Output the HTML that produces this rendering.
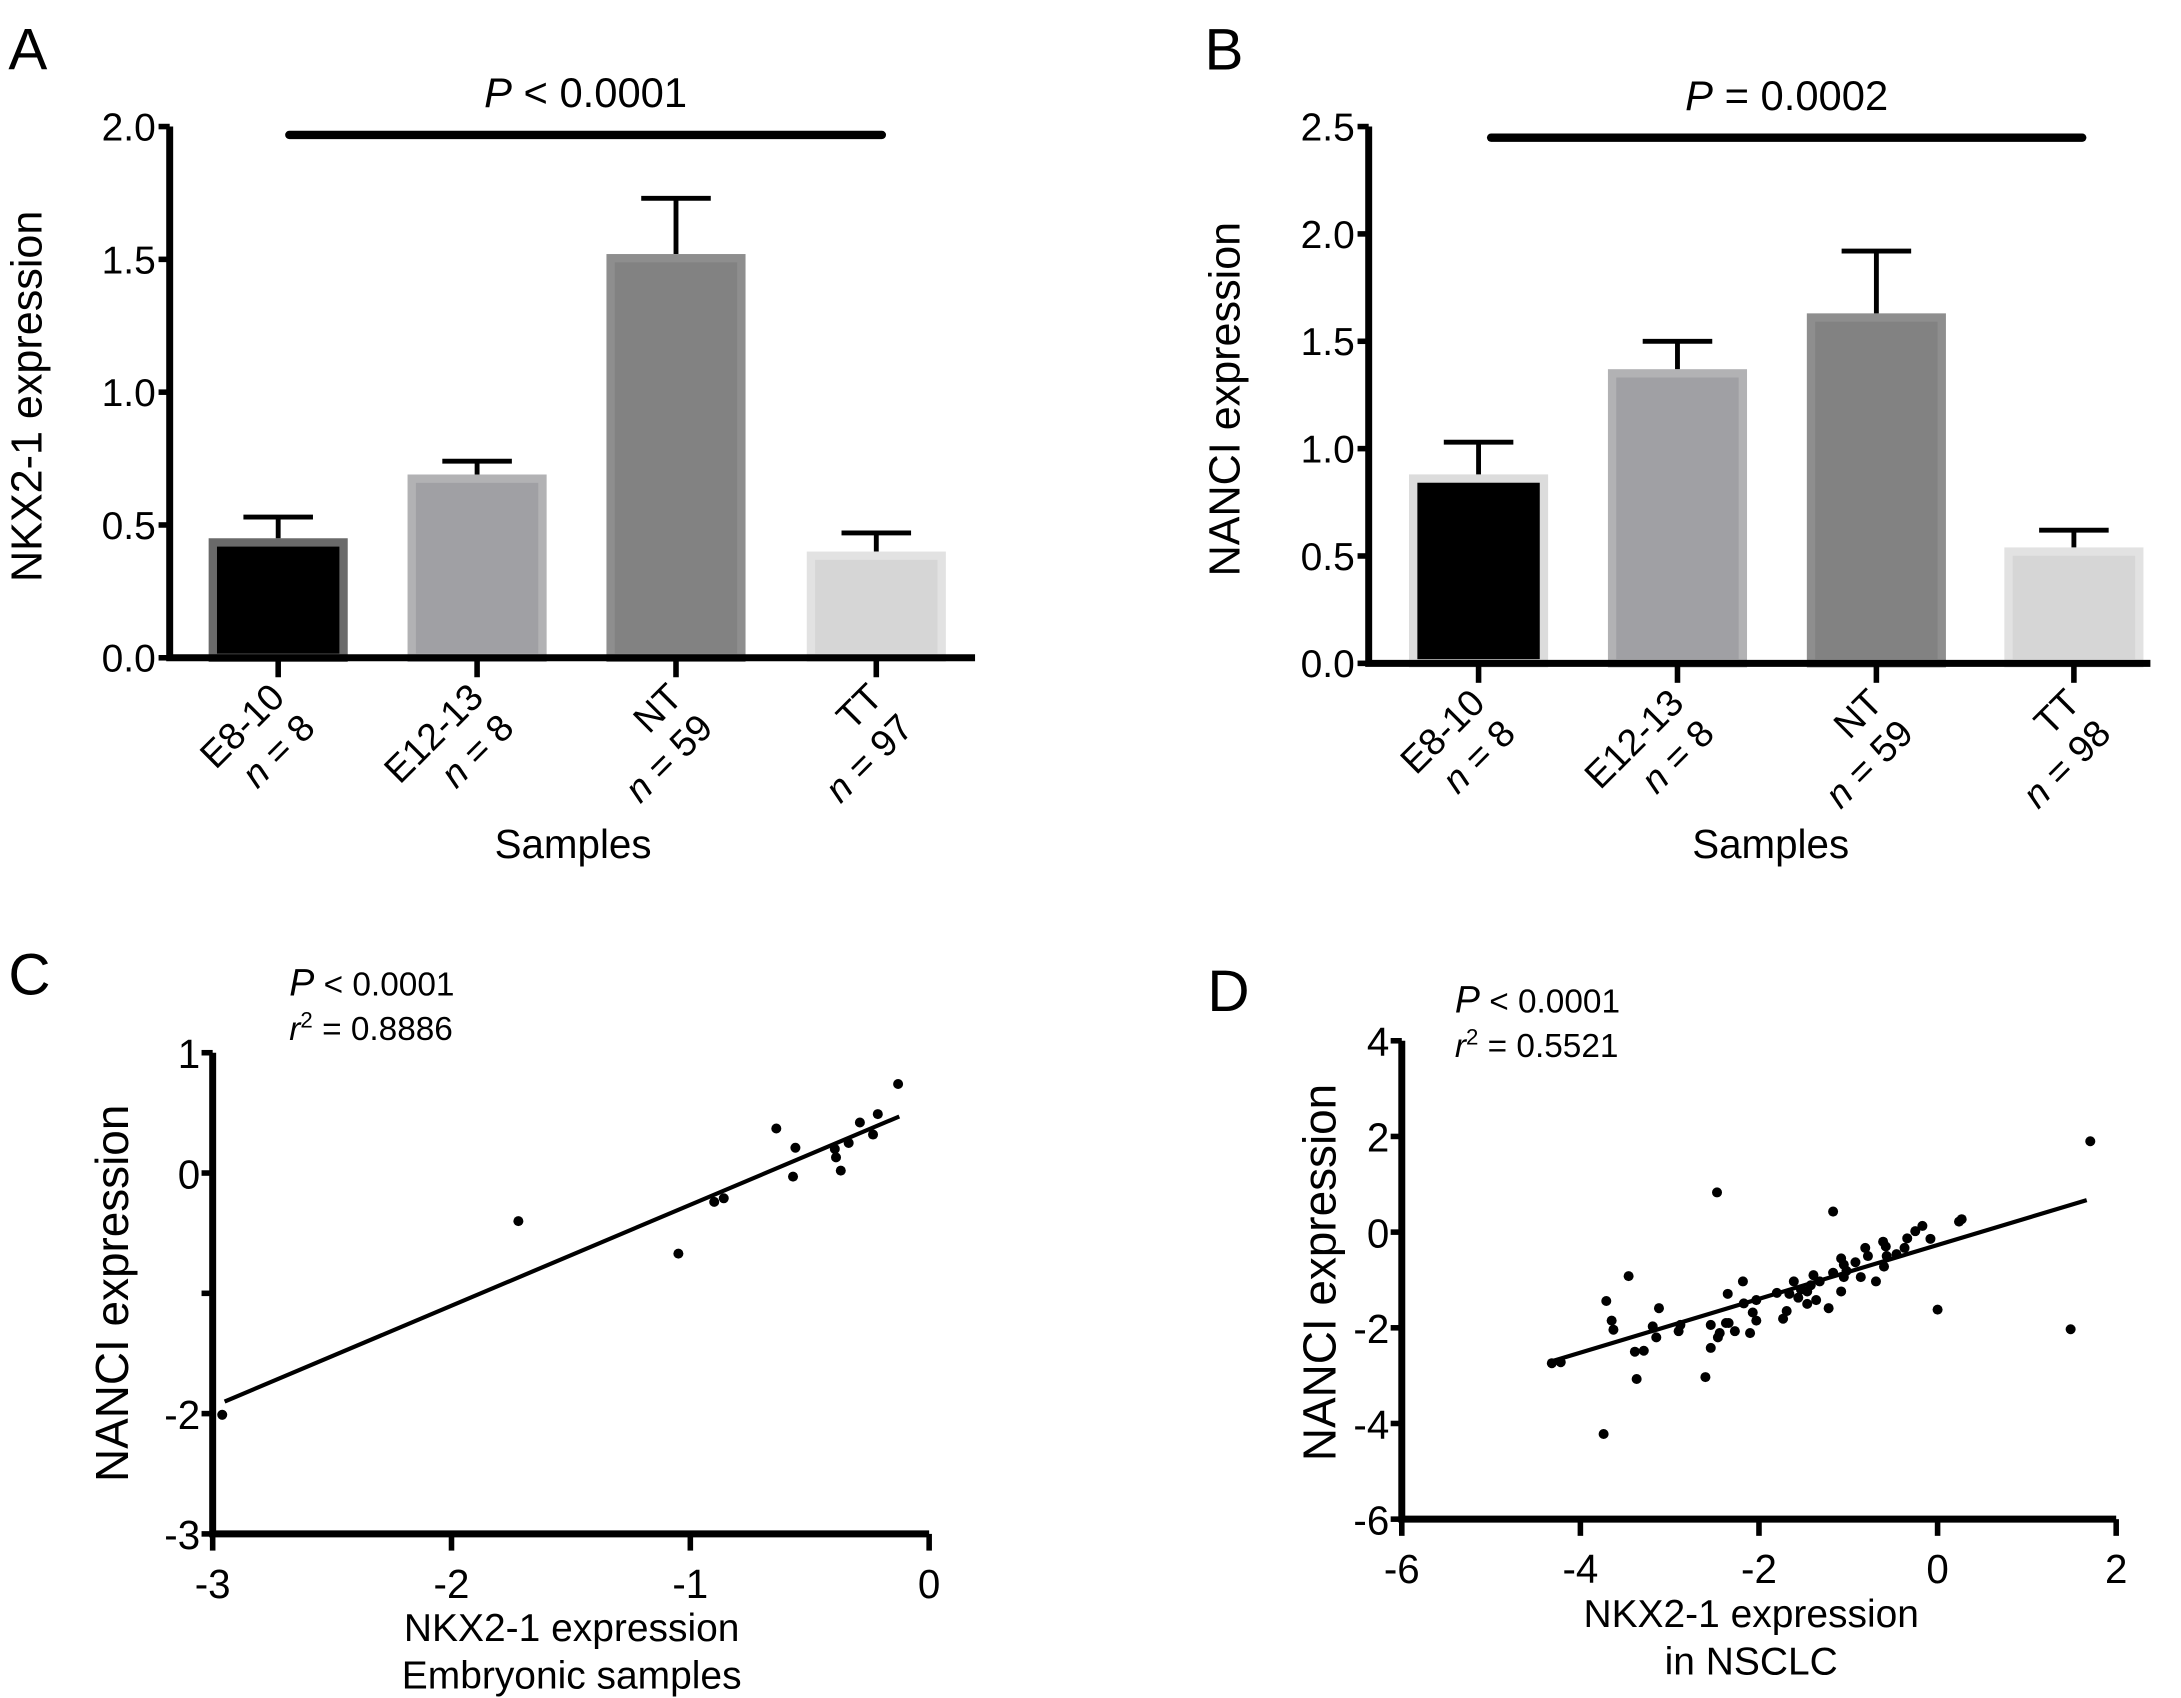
<!DOCTYPE html>
<html><head><meta charset="utf-8"><style>
html,body{margin:0;padding:0;background:#fff}
svg{display:block}
text{font-family:"Liberation Sans",Arial,sans-serif;fill:#000}
</style></head><body>
<svg id="fig" width="2181" height="1698" viewBox="0 0 1568 1221" preserveAspectRatio="none" font-family="Liberation Sans, Arial, sans-serif" xmlns="http://www.w3.org/2000/svg">
<g id="root"></g>
</svg>
<script>
// Panel A data
const catsA = ["E8-10","E12-13","NT","TT"];
const nA = ["n = 8","n = 8","n = 59","n = 97"];
const valsA = [0.45,0.69,1.52,0.40];
const errA = [0.53,0.74,1.73,0.47];
const ticksA = [0,0.5,1.0,1.5,2.0];
// Panel B data
const catsB = ["E8-10","E12-13","NT","TT"];
const nB = ["n = 8","n = 8","n = 59","n = 98"];
const valsB = [0.88,1.37,1.63,0.54];
const errB = [1.03,1.50,1.92,0.62];
const ticksB = [0,0.5,1.0,1.5,2.0,2.5];
// Panel C data
const cX = [-0.13,-0.215,-0.29,-0.235,-0.337,-0.395,-0.39,-0.37,-0.64,-0.56,-0.57,-0.86,-0.90,-1.72,-1.05,-2.96];
const cY = [0.74,0.49,0.42,0.32,0.25,0.20,0.13,0.02,0.37,0.21,-0.03,-0.21,-0.24,-0.40,-0.67,-2.01];
const cFitX = [-2.95,-0.125];
const cFitY = [-1.90,0.47];
const cTicksX = [-3,-2,-1,0];
const cTicksY = [1,0,-1,-2,-3];
const cTickLabelsY = ["1","0","","-2","-3"];
// Panel D data
const dX = [1.71,1.49,0.0,-2.47,-1.17,0.24,0.27,-0.17,-0.25,-0.08,-0.34,-0.37,-0.46,-0.61,-0.58,-0.57,-0.60,-0.81,-0.78,-0.92,-1.08,-1.05,-1.05,-1.02,-0.86,-0.69,-1.08,-1.17,-1.22,-1.32,-1.39,-1.42,-1.46,-1.36,-1.46,-1.56,-1.61,-1.53,-1.66,-1.69,-1.73,-1.80,-2.03,-2.07,-2.03,-2.17,-2.10,-2.18,-2.35,-2.34,-2.37,-2.44,-2.46,-2.54,-2.54,-2.27,-2.60,-2.88,-2.90,-3.12,-3.19,-3.15,-3.29,-3.39,-3.37,-3.46,-3.71,-3.65,-3.63,-3.74,-4.32,-4.22];
const dY = [1.90,-2.03,-1.62,0.83,0.43,0.22,0.27,0.13,0.02,-0.14,-0.13,-0.33,-0.46,-0.20,-0.30,-0.50,-0.72,-0.33,-0.50,-0.63,-0.55,-0.68,-0.94,-0.81,-0.94,-1.03,-1.24,-0.85,-1.59,-1.03,-0.90,-1.11,-1.24,-1.42,-1.50,-1.37,-1.03,-1.20,-1.29,-1.65,-1.81,-1.27,-1.42,-1.68,-1.85,-1.49,-2.11,-1.03,-1.29,-1.90,-1.90,-2.11,-2.20,-1.94,-2.42,-2.07,-3.03,-1.94,-2.07,-1.59,-1.97,-2.20,-2.48,-2.50,-3.07,-0.92,-1.44,-1.85,-2.04,-4.22,-2.74,-2.72];
const dFitX = [-4.32,1.67];
const dFitY = [-2.70,0.67];
const dTicksX = [-6,-4,-2,0,2];
const dTicksY = [4,2,0,-2,-4,-6];

const NS="http://www.w3.org/2000/svg";
const root=document.getElementById('root');
function mk(tag,attrs,parent,txt){const e=document.createElementNS(NS,tag);for(const k in attrs)e.setAttribute(k,attrs[k]);if(txt!==undefined)e.textContent=txt;(parent||root).appendChild(e);return e;}

function barPanel(p){
  const g=mk('g',{});
  
  
  const y=v=>p.y0-v*p.k;
  p.vals.forEach((v,i)=>{
    const cx=p.centers[i];
    const r=mk('rect',{x:cx-47,y:y(v)+3,width:94,height:p.y0-y(v)-3,fill:p.fills[i],stroke:p.strokes[i],'stroke-width':6},g);
    
    
    const e=mk('path',{d:`M${cx} ${y(v)} V${y(p.errs[i])} M${cx-25} ${y(p.errs[i])} H${cx+25}`,stroke:'#000','stroke-width':3.5,fill:'none'},g);
    
    
  });
  const ax=mk('path',{d:`M${p.ax} ${y(p.ticks[p.ticks.length-1])} V${p.y0} H${p.xend}`,stroke:'#000','stroke-width':5,fill:'none'},g);
  
  
  p.ticks.forEach(t=>{
    mk('line',{x1:p.ax-8,x2:p.ax,y1:y(t),y2:y(t),stroke:'#000','stroke-width':4},g);
    const tl=mk('text',{x:p.ax-10,y:y(t)+10,'text-anchor':'end','font-size':28},g,t.toFixed(1));
    
    
  });
  p.centers.forEach((cx,i)=>{
    mk('line',{x1:cx,x2:cx,y1:p.y0,y2:p.y0+14,stroke:'#000','stroke-width':4},g);
    const lab=mk('text',{transform:`rotate(-45 ${cx+6} ${p.y0+30})`,x:cx+6,y:p.y0+30,'text-anchor':'end','font-size':27},g,p.cats[i]);
    
    
    const parts=p.ns[i].split(' = ');
    const nl=mk('text',{transform:`rotate(-45 ${cx+6} ${p.y0+30})`,x:cx+6,y:p.y0+61,'text-anchor':'end','font-size':27},g);
    
    
    mk('tspan',{'font-style':'italic'},nl,'n');
    mk('tspan',{},nl,' = '+parts[1]);
  });
  const sig=mk('line',{x1:p.sig[0],x2:p.sig[1],y1:p.sigy,y2:p.sigy,stroke:'#000','stroke-width':6,'stroke-linecap':'round'},g);
  
  
  const pt=mk('text',{x:(p.sig[0]+p.sig[1])/2,y:p.sigy-20,'text-anchor':'middle','font-size':30},g);
  
  
  mk('tspan',{'font-style':'italic'},pt,'P');
  mk('tspan',{},pt,p.ptext);
  const yt=mk('text',{transform:`rotate(-90 ${p.ytx} ${p.yty})`,x:p.ytx,y:p.yty,'text-anchor':'middle','font-size':31},g,p.ytitle);
  
  
  const xt=mk('text',{x:p.xtx,y:617,'text-anchor':'middle','font-size':29},g,'Samples');
  
  
  const pl=mk('text',{x:p.lx,y:50,'font-size':42},g,p.letter);
  
  
}

barPanel({name:'panel-a',cats:catsA,ns:nA,vals:valsA,errs:errA,ticks:ticksA,y0:473,k:191,ax:122,xend:701,
  centers:[200,343,486,630],fills:['#000','#a0a0a4','#828282','#d6d6d6'],strokes:['#6a6a6a','#b2b2b4','#8e8e8e','#e2e2e2'],
  sig:[208,634],sigy:97,ptext:' < 0.0001',ytitle:'NKX2-1 expression',ytx:30,yty:285,xtx:412,lx:6,letter:'A'});
barPanel({name:'panel-b',cats:catsB,ns:nB,vals:valsB,errs:errB,ticks:ticksB,y0:477,k:154.4,ax:984,xend:1546,
  centers:[1063,1206,1349,1491],fills:['#000','#a0a0a4','#828282','#d6d6d6'],strokes:['#dcdcdc','#b2b2b4','#8e8e8e','#e2e2e2'],
  sig:[1072,1497],sigy:99,ptext:' = 0.0002',ytitle:'NANCI expression',ytx:891,yty:287,xtx:1273,lx:866,letter:'B'});

function scatterPanel(p){
  const g=mk('g',{});
  
  
  const x=v=>p.x0+v*p.kx, y=v=>p.y0-v*p.ky;
  const xmin=p.tx[0], xmax=p.tx[p.tx.length-1], ymax=p.ty[0], ymin=p.ty[p.ty.length-1];
  const ax=mk('path',{d:`M${x(xmin)} ${y(ymax)} V${y(ymin)} H${x(xmax)}`,stroke:'#000','stroke-width':5,fill:'none'},g);
  
  
  p.ty.forEach((t,i)=>{
    mk('line',{x1:x(xmin)-8,x2:x(xmin),y1:y(t),y2:y(t),stroke:'#000','stroke-width':4},g);
    const tl=mk('text',{x:x(xmin)-9,y:y(t)+11,'text-anchor':'end','font-size':29},g,p.tyl[i]);
    
    
  });
  p.tx.forEach(t=>{
    mk('line',{x1:x(t),x2:x(t),y1:y(ymin),y2:y(ymin)+12,stroke:'#000','stroke-width':4},g);
    const tl=mk('text',{x:x(t),y:y(ymin)+46,'text-anchor':'middle','font-size':29},g,String(t));
    
    
  });
  const fit=mk('line',{x1:x(p.fx[0]),y1:y(p.fy[0]),x2:x(p.fx[1]),y2:y(p.fy[1]),stroke:'#000','stroke-width':3},g);
  
  
  p.xs.forEach((v,i)=>{
    const c=mk('circle',{cx:x(v),cy:y(p.ys[i]),r:3.6,fill:'#000'},g);
    
    
  });
  const pt=mk('text',{x:p.sx,y:p.sy,'font-size':24},g);
  
  
  mk('tspan',{'font-style':'italic','font-size':27},pt,'P');
  mk('tspan',{},pt,' < 0.0001');
  const rt=mk('text',{x:p.sx,y:p.sy+32,'font-size':24},g);
  
  
  mk('tspan',{'font-style':'italic'},rt,'r');
  mk('tspan',{dy:-9,'font-size':16},rt,'2');
  mk('tspan',{dy:9},rt,' = '+p.r2);
  const yt=mk('text',{transform:`rotate(-90 ${p.ytx} ${p.yty})`,x:p.ytx,y:p.yty,'text-anchor':'middle','font-size':33},g,'NANCI expression');
  
  
  p.xt.forEach((s,i)=>{
    const xt=mk('text',{x:p.xtx,y:p.xty+i*34,'text-anchor':'middle','font-size':28},g,s);
    
    
  });
  const pl=mk('text',{x:p.lx,y:p.ly,'font-size':42},g,p.letter);
  
  
}

scatterPanel({name:'panel-c',xs:cX,ys:cY,fx:cFitX,fy:cFitY,tx:cTicksX,ty:cTicksY,tyl:cTickLabelsY,
  x0:668,kx:171.7,y0:843.5,ky:86.5,sx:208,sy:716,r2:'0.8886',ytx:92,yty:930,xt:['NKX2-1 expression','Embryonic samples'],xtx:411,xty:1180,lx:6,ly:715,letter:'C'});
scatterPanel({name:'panel-d',xs:dX,ys:dY,fx:dFitX,fy:dFitY,tx:dTicksX,ty:dTicksY,tyl:dTicksY.map(String),
  x0:1393,kx:64.2,y0:886,ky:34.4,sx:1046,sy:728,r2:'0.5521',ytx:960,yty:915,xt:['NKX2-1 expression','in NSCLC'],xtx:1259,xty:1170,lx:868,ly:727,letter:'D'});
</script>
</body></html>
